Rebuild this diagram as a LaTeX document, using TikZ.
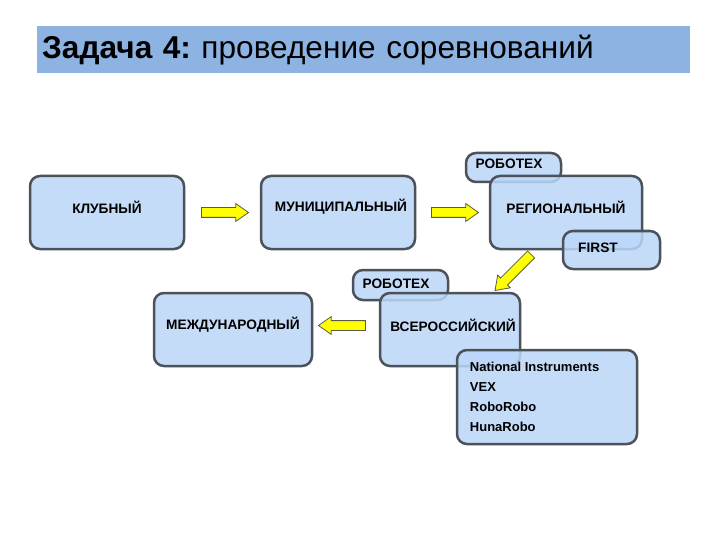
\documentclass[tikz,border=0pt]{standalone}
\usepackage{fontspec}
\setmainfont{Liberation Sans}
\usetikzlibrary{shapes.arrows,calc}
\definecolor{boxfill}{RGB}{187,215,249}
\definecolor{boxline}{RGB}{75,82,90}
\definecolor{titlefill}{RGB}{141,179,226}
\definecolor{arrowfill}{RGB}{255,255,0}
\definecolor{arrowline}{RGB}{90,90,70}
\begin{document}
\frenchspacing
\begin{tikzpicture}[x=1pt,y=-1pt,
  box/.style={draw=boxline, line width=2.5pt, rounded corners=10pt, fill=boxfill,
    fill opacity=0.85, text opacity=1, inner sep=0pt},
  txt/.style={inner sep=0pt, font=\bfseries\fontsize{13.7}{20}\selectfont, text opacity=1, fill opacity=1},
  yarrow/.style={single arrow, draw=arrowline, line width=0.8pt, fill=arrowfill,
    minimum height=47pt, single arrow head extend=4pt,
    single arrow tip angle=70, inner xsep=0pt, inner ysep=4.5pt, outer sep=0pt}
]
\useasboundingbox[fill=white] (0,0) rectangle (720,540);
% title
\node[fill=titlefill, anchor=north west, minimum width=653pt, minimum height=47pt,
  text width=643pt, inner xsep=5pt, inner ysep=0pt, align=left,
  font=\fontsize{31.6}{34}\selectfont] (title) at (37,26)
  {{\bfseries Задача 4:} проведение соревнований};
% top row
\node[box, minimum width=154pt, minimum height=73pt,
  label={[txt,yshift=5.5pt]center:КЛУБНЫЙ}] (klub) at (107,212.5) {};
\node[box, minimum width=154pt, minimum height=73pt,
  label={[txt,yshift=5.5pt,xshift=3pt]center:МУНИЦИПАЛЬНЫЙ}] (muni) at (338,212.5) {};
\node[box, minimum width=95pt, minimum height=29pt,
  label={[txt,yshift=3.5pt,xshift=-4.5pt]center:РОБОТЕХ}] (rob1) at (513.5,167.5) {};
\node[box, minimum width=152pt, minimum height=73pt,
  label={[txt,yshift=5.5pt]center:РЕГИОНАЛЬНЫЙ}] (reg) at (566,212.5) {};
\node[box, minimum width=97pt, minimum height=38pt,
  label={[txt,yshift=2pt,xshift=-13.5pt]center:FIRST}] (first) at (611.5,250) {};
% bottom row
\node[box, minimum width=95pt, minimum height=30pt,
  label={[txt,yshift=1pt,xshift=-4.5pt]center:РОБОТЕХ}] (rob2) at (400.5,285) {};
\node[box, minimum width=140pt, minimum height=73pt,
  label={[txt,yshift=4.5pt,xshift=3pt]center:ВСЕРОССИЙСКИЙ}] (vse) at (450,329.5) {};
\node[box, minimum width=158pt, minimum height=73pt,
  label={[txt,yshift=4.5pt]center:МЕЖДУНАРОДНЫЙ}] (mezh) at (233,329.5) {};
\node[box, minimum width=180pt, minimum height=94pt,
  label={[txt,font=\bfseries\fontsize{13}{20}\selectfont,align=left,anchor=west,xshift=14pt]west:National Instruments\\VEX\\RoboRobo\\HunaRobo}] (nat) at (547,397) {};
% arrows
\node[yarrow] (a1) at ($(klub.east)!0.5!(muni.west)+(-1,0)$) {};
\node[yarrow] (a2) at ($(muni.east)!0.5!(reg.west)+(-1,0)$) {};
\node[yarrow, minimum height=51pt, rotate=225] (a3) at (515.5,270) {};
\node[yarrow, shape border rotate=180] (a4) at ($(vse.west)!0.5!(mezh.east)+(-0.5,-4)$) {};
\end{tikzpicture}
\end{document}
